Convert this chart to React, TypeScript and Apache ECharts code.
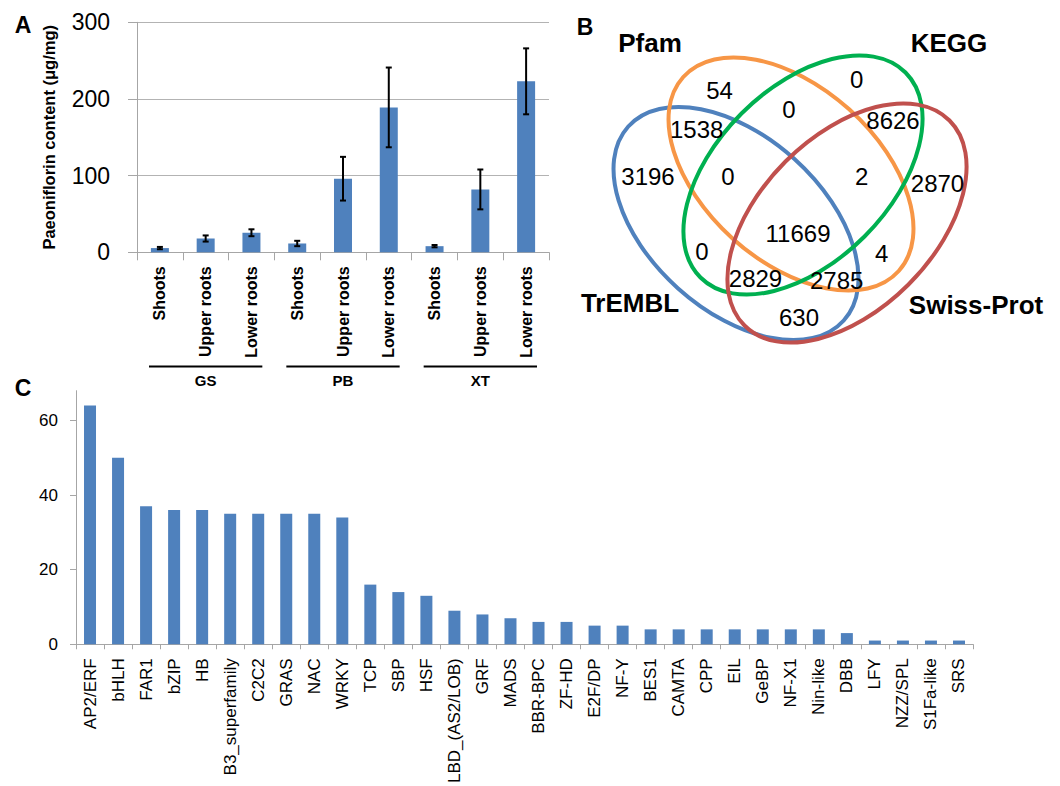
import React, { useEffect, useRef } from "react";
import * as echarts from "echarts";

const FONT = "'Liberation Sans', Arial, Helvetica, sans-serif";

// Panel A data
const groupsA = ["GS", "PB", "XT"];
const tissuesA = ["Shoots", "Upper roots", "Lower roots"];
const meansA = [5.5, 18, 25.5, 11.5, 96, 189, 8, 82, 223];
const errA = [1.5, 4, 4.5, 3.5, 28.5, 52, 1.5, 26, 43];
const yTicksA = [0, 100, 200, 300];

// Panel B data (Venn)
const vennSets = ["TrEMBL", "Pfam", "KEGG", "Swiss-Prot"];
const vennColors = ["#4F81BD", "#F79646", "#00B050", "#C0504D"];
const vennCounts = [54, 0, 0, 1538, 8626, 3196, 0, 2, 2870, 11669, 0, 4, 2829, 2785, 630];

// Panel C data
const tfFamilies = [
  "AP2/ERF", "bHLH", "FAR1", "bZIP", "HB", "B3_superfamily", "C2C2", "GRAS", "NAC", "WRKY",
  "TCP", "SBP", "HSF", "LBD_(AS2/LOB)", "GRF", "MADS", "BBR-BPC", "ZF-HD", "E2F/DP", "NF-Y",
  "BES1", "CAMTA", "CPP", "EIL", "GeBP", "NF-X1", "Nin-like", "DBB", "LFY", "NZZ/SPL",
  "S1Fa-like", "SRS",
];
const tfCounts = [64, 50, 37, 36, 36, 35, 35, 35, 35, 34, 16, 14, 13, 9, 8, 7, 6, 6, 5, 5, 4, 4, 4, 4, 4, 4, 4, 3, 1, 1, 1, 1];
const yTicksC = [0, 20, 40, 60];

// Layout (positions only)
const gridA = { left: 137, top: 22.3, width: 412, height: 230 };
const gridC = { left: 76, top: 390.7, width: 897, height: 255 };
const vennEllipses = [
  { cx: 736, cy: 223.5, rx: 145, ry: 87, rot: -42 },
  { cx: 791, cy: 174, rx: 145, ry: 87, rot: -42 },
  { cx: 803, cy: 175, rx: 145, ry: 87, rot: 45 },
  { cx: 847, cy: 223, rx: 145, ry: 87, rot: 45 },
];
const vennNamePos = [[630, 303], [650, 43], [949, 43], [976, 305]];
const vennCountPos = [
  [719.5, 90], [856.7, 79.5], [789, 109.5], [696.7, 129.5], [893, 120.5], [648, 176.5],
  [728, 176.5], [861.7, 176.5], [937.5, 183], [798, 233.5], [702, 251], [881.7, 253],
  [755.5, 278.5], [836.7, 280.5], [799, 317],
];

export default function App() {
  const ref = useRef<HTMLDivElement>(null);
  useEffect(() => {
    if (!ref.current) return;
    const chart = echarts.init(ref.current, undefined, { renderer: "svg" });

    const catsA: string[] = [];
    groupsA.forEach((g) => tissuesA.forEach((t) => catsA.push(g + "|" + t)));
    const errData = catsA.map((c, i) => [c, meansA[i] - errA[i], meansA[i] + errA[i]]);

    const catW = gridA.width / catsA.length;
    const groupGraphics: any[] = [];
    groupsA.forEach((g, gi) => {
      const x0 = gridA.left + gi * 3 * catW + 12;
      const x1 = gridA.left + (gi + 1) * 3 * catW - 12;
      groupGraphics.push({
        type: "line",
        shape: { x1: x0, y1: 366.5, x2: x1, y2: 366.5 },
        style: { stroke: "#000", lineWidth: 2 },
      });
      groupGraphics.push({
        type: "text",
        x: (x0 + x1) / 2,
        y: 380,
        style: {
          text: g, font: `bold 15px ${FONT}`, fill: "#000",
          textAlign: "center", textVerticalAlign: "middle", align: "center", verticalAlign: "middle",
        },
      });
    });

    const vennGraphics: any[] = [];
    const drawOrder = [0, 3, 1, 2];
    drawOrder.forEach((i) => {
      const e = vennEllipses[i];
      vennGraphics.push({
        type: "ellipse",
        x: e.cx,
        y: e.cy,
        rotation: (e.rot * Math.PI) / 180,
        shape: { cx: 0, cy: 0, rx: e.rx, ry: e.ry },
        style: { fill: "none", stroke: vennColors[i], lineWidth: 4 },
        z: 10 + i,
      });
    });
    vennSets.forEach((s, i) => {
      vennGraphics.push({
        type: "text",
        x: vennNamePos[i][0],
        y: vennNamePos[i][1],
        z: 20,
        style: {
          text: s, font: `bold 26px ${FONT}`, fill: "#000",
          textAlign: "center", textVerticalAlign: "middle", align: "center", verticalAlign: "middle",
        },
      });
    });
    vennCounts.forEach((c, i) => {
      vennGraphics.push({
        type: "text",
        x: vennCountPos[i][0],
        y: vennCountPos[i][1],
        z: 20,
        style: {
          text: String(c), font: `24px ${FONT}`, fill: "#000",
          textAlign: "center", textVerticalAlign: "middle", align: "center", verticalAlign: "middle",
        },
      });
    });

    const panelLabel = (t: string, x: number, y: number) => ({
      type: "text",
      x,
      y,
      style: {
        text: t, font: `bold 23px ${FONT}`, fill: "#000",
        textAlign: "center", textVerticalAlign: "middle", align: "center", verticalAlign: "middle",
      },
    });

    const axisGray = "#a6a6a6";

    chart.setOption({
      animation: false,
      backgroundColor: "#fff",
      textStyle: { fontFamily: FONT },
      grid: [
        { ...gridA, containLabel: false },
        { ...gridC, containLabel: false },
      ],
      xAxis: [
        {
          gridIndex: 0,
          type: "category",
          data: catsA,
          axisLine: { lineStyle: { color: axisGray, width: 1 } },
          axisTick: { show: true, length: 8, lineStyle: { color: axisGray } },
          axisLabel: {
            interval: 0, rotate: 90, margin: 14, fontSize: 16, fontWeight: "bold", color: "#000",
            fontFamily: FONT,
            formatter: (v: string) => v.split("|")[1],
          },
        },
        {
          gridIndex: 1,
          type: "category",
          data: tfFamilies,
          axisLine: { lineStyle: { color: axisGray, width: 1 } },
          axisTick: { show: true, length: 5, lineStyle: { color: axisGray } },
          axisLabel: { interval: 0, rotate: 90, margin: 14, fontSize: 17, color: "#000", fontFamily: FONT },
        },
      ],
      yAxis: [
        {
          gridIndex: 0,
          type: "value",
          min: 0,
          max: 300,
          interval: 100,
          name: "Paeoniflorin content (μg/mg)",
          nameLocation: "middle",
          nameGap: 80,
          nameRotate: 90,
          nameTextStyle: { fontSize: 16.5, fontWeight: "bold", color: "#000", fontFamily: FONT },
          axisLine: { show: true, lineStyle: { color: axisGray } },
          axisTick: { show: true, length: 9, lineStyle: { color: axisGray } },
          splitLine: { show: true, lineStyle: { color: "#b3b3b3" } },
          axisLabel: { fontSize: 23, margin: 27, color: "#000", fontFamily: FONT, customValues: yTicksA },
        },
        {
          gridIndex: 1,
          type: "value",
          min: 0,
          max: 68,
          interval: 20,
          axisLine: { show: true, lineStyle: { color: axisGray } },
          axisTick: { show: true, length: 6, lineStyle: { color: axisGray }, customValues: yTicksC },
          splitLine: { show: false },
          axisLabel: {
            fontSize: 17, margin: 18, color: "#000", fontFamily: FONT, customValues: yTicksC,
            formatter: (v: number) => (v % 20 === 0 ? String(v) : ""),
          },
        },
      ],
      series: [
        {
          type: "bar",
          xAxisIndex: 0,
          yAxisIndex: 0,
          data: meansA,
          barWidth: 18,
          itemStyle: { color: "#4F81BD" },
        },
        {
          type: "custom",
          xAxisIndex: 0,
          yAxisIndex: 0,
          data: errData,
          encode: { x: 0, y: [1, 2] },
          z: 10,
          renderItem: (params: any, api: any) => {
            const x = api.value(0);
            const lo = api.coord([x, api.value(1)]);
            const hi = api.coord([x, api.value(2)]);
            const w = 3;
            const st = { stroke: "#000", lineWidth: 2 };
            return {
              type: "group",
              children: [
                { type: "line", shape: { x1: hi[0], y1: hi[1], x2: lo[0], y2: lo[1] }, style: st },
                { type: "line", shape: { x1: hi[0] - w, y1: hi[1], x2: hi[0] + w, y2: hi[1] }, style: st },
                { type: "line", shape: { x1: lo[0] - w, y1: lo[1], x2: lo[0] + w, y2: lo[1] }, style: st },
              ],
            };
          },
        },
        {
          type: "bar",
          xAxisIndex: 1,
          yAxisIndex: 1,
          data: tfCounts,
          barWidth: 12,
          itemStyle: { color: "#4F81BD" },
        },
      ],
      graphic: [
        panelLabel("A", 23, 25),
        panelLabel("B", 585, 27),
        panelLabel("C", 23, 388),
        ...groupGraphics,
        ...vennGraphics,
      ],
    });

    return () => chart.dispose();
  }, []);

  return (
    <div
      ref={ref}
      style={{ position: "fixed", left: 0, top: 0, width: 1060, height: 786, background: "#fff" }}
    />
  );
}
